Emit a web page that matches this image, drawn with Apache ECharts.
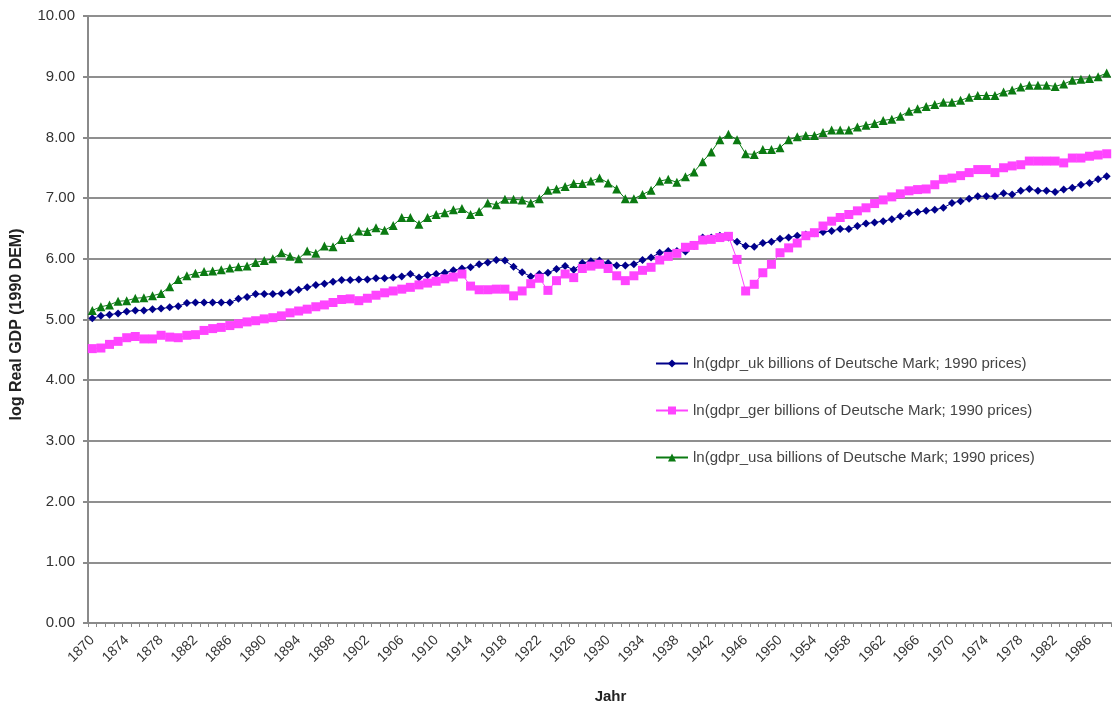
<!DOCTYPE html>
<html>
<head>
<meta charset="utf-8">
<script src="https://cdn.jsdelivr.net/npm/echarts@6/dist/echarts.min.js"></script>
<style>html,body{margin:0;padding:0;background:#fff}#c{width:1112px;height:709px}</style>
</head>
<body>
<div id="c"></div>
<script>
var years = [];
for (var y = 1870; y <= 1988; y++) years.push(String(y));

var seriesNames = [
  'ln(gdpr_uk billions of Deutsche Mark; 1990 prices)',
  'ln(gdpr_ger billions of Deutsche Mark; 1990 prices)',
  'ln(gdpr_usa billions of Deutsche Mark; 1990 prices)'
];

var uk = [
  5.02,5.06,5.08,5.10,5.13,5.15,5.15,5.17,5.18,5.20,
  5.22,5.27,5.28,5.28,5.28,5.28,5.28,5.34,5.37,5.42,
  5.42,5.42,5.43,5.45,5.49,5.53,5.57,5.59,5.62,5.65,
  5.65,5.66,5.66,5.68,5.68,5.69,5.71,5.75,5.69,5.73,
  5.75,5.77,5.81,5.84,5.86,5.91,5.94,5.98,5.97,5.87,
  5.78,5.71,5.75,5.77,5.83,5.88,5.82,5.93,5.96,5.97,
  5.93,5.89,5.89,5.91,5.98,6.02,6.10,6.13,6.13,6.12,
  6.21,6.35,6.35,6.38,6.35,6.28,6.21,6.20,6.26,6.28,
  6.33,6.35,6.38,6.40,6.42,6.44,6.46,6.49,6.49,6.54,
  6.58,6.60,6.62,6.65,6.70,6.75,6.77,6.79,6.81,6.84,
  6.92,6.95,6.99,7.03,7.03,7.03,7.08,7.06,7.12,7.15,
  7.12,7.12,7.10,7.14,7.17,7.22,7.25,7.31,7.36
];

var ger = [
  4.52,4.53,4.59,4.64,4.70,4.72,4.68,4.68,4.74,4.71,
  4.70,4.74,4.75,4.82,4.85,4.87,4.90,4.93,4.96,4.98,
  5.01,5.03,5.06,5.11,5.14,5.17,5.21,5.24,5.28,5.33,
  5.34,5.31,5.35,5.40,5.44,5.47,5.50,5.53,5.57,5.60,
  5.63,5.67,5.70,5.75,5.55,5.49,5.49,5.50,5.50,5.39,
  5.47,5.59,5.68,5.48,5.64,5.75,5.69,5.84,5.88,5.91,
  5.84,5.72,5.64,5.72,5.81,5.86,5.98,6.04,6.09,6.19,
  6.22,6.31,6.32,6.35,6.37,5.99,5.47,5.58,5.77,5.91,
  6.10,6.18,6.26,6.38,6.43,6.54,6.62,6.68,6.73,6.79,
  6.84,6.91,6.97,7.02,7.07,7.12,7.14,7.15,7.22,7.31,
  7.33,7.37,7.42,7.47,7.47,7.42,7.50,7.53,7.55,7.61,
  7.61,7.61,7.61,7.58,7.66,7.66,7.69,7.71,7.73
];

var usa = [
  5.15,5.21,5.24,5.30,5.31,5.35,5.36,5.39,5.43,5.54,
  5.66,5.72,5.76,5.79,5.80,5.82,5.85,5.87,5.88,5.94,
  5.97,6.00,6.10,6.04,6.00,6.13,6.09,6.21,6.20,6.32,
  6.35,6.46,6.45,6.51,6.47,6.55,6.68,6.68,6.57,6.68,
  6.73,6.76,6.81,6.83,6.73,6.78,6.92,6.89,6.98,6.98,
  6.97,6.92,6.99,7.13,7.15,7.19,7.24,7.24,7.28,7.33,
  7.25,7.15,6.99,6.99,7.06,7.13,7.28,7.31,7.26,7.35,
  7.43,7.60,7.76,7.96,8.05,7.96,7.73,7.72,7.80,7.80,
  7.83,7.96,8.01,8.03,8.03,8.08,8.12,8.12,8.12,8.17,
  8.20,8.23,8.28,8.30,8.35,8.43,8.47,8.51,8.54,8.58,
  8.58,8.61,8.66,8.69,8.69,8.69,8.75,8.78,8.83,8.86,
  8.86,8.86,8.84,8.88,8.94,8.96,8.97,9.00,9.06
];

var colors = ['#00008b', '#ff44ff', '#0b7a12'];
var symbols = ['diamond', 'rect', 'triangle'];
var symbolSizes = [8, 9, 9];
var dataSets = [uk, ger, usa];

var FONT = '"Liberation Sans", Arial, sans-serif';
var chart = echarts.init(document.getElementById('c'), null, {renderer: 'canvas'});

var series = dataSets.map(function (d, i) {
  return {
    name: seriesNames[i],
    type: 'line',
    data: d,
    symbol: symbols[i],
    symbolSize: symbolSizes[i],
    showAllSymbol: true,
    animation: false,
    lineStyle: {color: colors[i], width: 1},
    itemStyle: {color: colors[i]}
  };
});

chart.setOption({
  animation: false,
  backgroundColor: '#ffffff',
  grid: {left: 88, right: 1, top: 16, bottom: 84, containLabel: false},
  legend: {
    orient: 'vertical',
    left: 650,
    top: 351,
    itemWidth: 32,
    itemHeight: 10,
    itemGap: 32,
    textStyle: {fontFamily: FONT, fontSize: 15, color: '#444'},
    data: seriesNames
  },
  xAxis: {
    type: 'category',
    data: years,
    boundaryGap: true,
    name: 'Jahr',
    nameLocation: 'middle',
    nameGap: 66,
    nameTextStyle: {fontFamily: FONT, fontSize: 15, fontWeight: 'bold', color: '#222', padding: [0, 0, 0, 22]},
    axisLine: {lineStyle: {color: '#8a8a8a', width: 2}},
    axisTick: {show: true, interval: 0, length: 4, inside: false, lineStyle: {color: '#8a8a8a', width: 1}},
    axisLabel: {interval: 3, rotate: 45, fontFamily: FONT, fontSize: 14, color: '#333', margin: 15},
    splitLine: {show: false}
  },
  yAxis: {
    type: 'value',
    min: 0,
    max: 10,
    interval: 1,
    name: 'log Real GDP (1990 DEM)',
    nameLocation: 'middle',
    nameGap: 63,
    nameRotate: 90,
    nameTextStyle: {fontFamily: FONT, fontSize: 16, fontWeight: 'bold', color: '#222', padding: [0, 10, 0, 0]},
    axisLine: {show: true, lineStyle: {color: '#8a8a8a', width: 2}},
    axisTick: {show: true, length: 5, lineStyle: {color: '#8a8a8a', width: 2}},
    axisLabel: {fontFamily: FONT, fontSize: 15, color: '#333', margin: 13,
      formatter: function (v) { return v.toFixed(2); }},
    splitLine: {show: true, lineStyle: {color: '#8f8f8f', width: 2}}
  },
  series: series
});
</script>
</body>
</html>
